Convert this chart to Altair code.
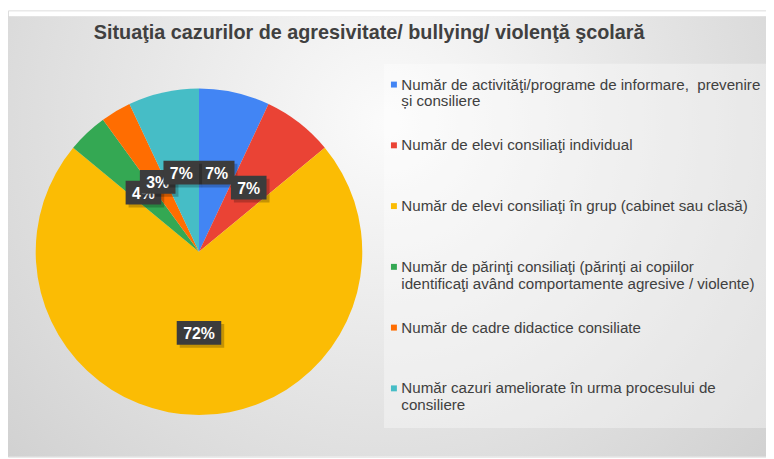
import altair as alt
import pandas as pd

title_text = "Situaţia cazurilor de agresivitate/ bullying/ violenţă şcolară"
categories = [
    "Număr de activităţi/programe de informare,\u00a0 prevenire\nși consiliere",
    "Număr de elevi consiliaţi individual",
    "Număr de elevi consiliaţi în grup (cabinet sau clasă)",
    "Număr de părinţi consiliaţi (părinţi ai copiilor\nidentificaţi având comportamente agresive / violente)",
    "Număr de cadre didactice consiliate",
    "Număr cazuri ameliorate în urma procesului de\nconsiliere",
]
values = [7, 7, 72, 4, 3, 7]
colors = ["#4285F4", "#EA4335", "#FBBC04", "#34A853", "#FF6D01", "#46BDC6"]

df = pd.DataFrame({"cat": categories, "value": values, "idx": list(range(len(values)))})

W, H = 766, 451
CX, CY, R, LR = 193, 244, 165, 82

color = alt.Color("cat:N", scale=alt.Scale(domain=categories, range=colors), legend=None)

bg = alt.Chart(pd.DataFrame({"a": [0]})).mark_rect(
    fill=alt.RadialGradient(
        gradient="radial",
        stops=[alt.GradientStop(offset=0, color="#fbfbfb"),
               alt.GradientStop(offset=1, color="#c9c9c9")],
        x1=0.5, y1=0.35, r1=0, x2=0.5, y2=0.35, r2=0.8,
    )
).encode(x=alt.value(0), x2=alt.value(W), y=alt.value(6), y2=alt.value(H))

legend_box = alt.Chart(pd.DataFrame({"a": [0]})).mark_rect(
    fill="#ffffff", opacity=0.35
).encode(x=alt.value(380), x2=alt.value(W), y=alt.value(54), y2=alt.value(422))

title = alt.Chart(pd.DataFrame({"t": [title_text]})).mark_text(
    font="Liberation Sans", fontWeight="bold", fontSize=20,
    color="#404040", align="center", baseline="alphabetic"
).encode(x=alt.value(365), y=alt.value(29), text="t:N")

pie = alt.Chart(df).mark_arc(outerRadius=R).encode(
    theta=alt.Theta("value:Q", stack=True),
    order=alt.Order("idx:Q"),
    color=color,
    x=alt.value(CX), y=alt.value(CY),
)

lab_base = alt.Chart(df).transform_joinaggregate(
    total="sum(value)"
).transform_window(
    cum="sum(value)", sort=[alt.SortField("idx", order="ascending")]
).transform_calculate(
    mid="(datum.cum - datum.value/2) / datum.total * 2 * PI",
    label="format(datum.value / datum.total, '.0%')",
).transform_calculate(
    px=f"{CX} + {LR} * sin(datum.mid)",
    py=f"{CY} - {LR} * cos(datum.mid)",
    hw="(18 + 9 * length(datum.label)) / 2",
).transform_calculate(
    x1="datum.px - datum.hw", x2="datum.px + datum.hw",
    y1="datum.py - 12", y2="datum.py + 12",
    sx1="datum.px - datum.hw + 3", sx2="datum.px + datum.hw + 3",
    sy1="datum.py - 9", sy2="datum.py + 15",
)

label_layers = []
for i in range(len(values)):
    b = lab_base.transform_filter(f"datum.idx == {i}")
    label_layers.append(b.mark_rect(fill="#000000", opacity=0.22).encode(
        x=alt.X("sx1:Q", scale=None, axis=None), x2="sx2:Q",
        y=alt.Y("sy1:Q", scale=None, axis=None), y2="sy2:Q",
    ))
    label_layers.append(b.mark_rect(fill="#3c3c3c").encode(
        x=alt.X("x1:Q", scale=None, axis=None), x2="x2:Q",
        y=alt.Y("y1:Q", scale=None, axis=None), y2="y2:Q",
    ))
    label_layers.append(b.mark_text(
        font="Liberation Sans", fontWeight="bold", fontSize=16, color="#ffffff",
        align="center", baseline="middle", dy=1
    ).encode(
        x=alt.X("px:Q", scale=None, axis=None),
        y=alt.Y("py:Q", scale=None, axis=None),
        text="label:N",
    ))

leg_base = alt.Chart(df).transform_calculate(
    ly="75 + 61.4 * datum.idx"
).transform_calculate(
    ty="datum.ly + 5"
)
leg_marks = leg_base.mark_square(size=36, opacity=1).encode(
    x=alt.value(390),
    y=alt.Y("ly:Q", scale=None, axis=None),
    color=color,
)
leg_text = leg_base.mark_text(
    font="Liberation Sans", fontSize=15.3, color="#404040",
    align="left", baseline="alphabetic", lineBreak="\n", lineHeight=17
).encode(
    x=alt.value(397.5),
    y=alt.Y("ty:Q", scale=None, axis=None),
    text="cat:N",
)

chart = alt.layer(
    bg, legend_box, title, pie, *label_layers, leg_marks, leg_text
).properties(
    width=W, height=H, autosize=alt.AutoSizeParams(type="none"), padding=0
).configure_view(stroke=None).configure(background="#ffffff")

chart.save("out.html", embed_options={"renderer": "svg", "actions": False})
